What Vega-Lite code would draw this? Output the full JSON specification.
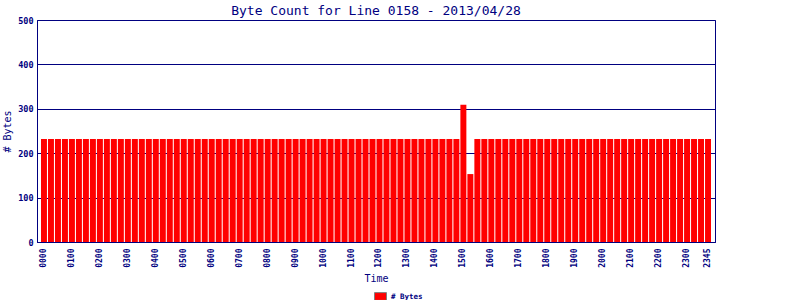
{
  "$schema": "https://vega.github.io/schema/vega-lite/v6.json",
  "width": 678,
  "height": 222,
  "autosize": "none",
  "padding": {"left": 37, "top": 20, "right": 85, "bottom": 58},
  "background": "white",
  "title": {"text": "Byte Count for Line 0158 - 2013/04/28", "font": "DejaVu Sans Mono", "fontSize": 13, "fontWeight": "normal", "color": "#000080", "offset": -2, "anchor": "middle"},
  "data": {"values": [
    {"time": "0000", "bytes": 232}, {"time": "0015", "bytes": 232}, {"time": "0030", "bytes": 232}, {"time": "0045", "bytes": 232},
    {"time": "0100", "bytes": 232}, {"time": "0115", "bytes": 232}, {"time": "0130", "bytes": 232}, {"time": "0145", "bytes": 232},
    {"time": "0200", "bytes": 232}, {"time": "0215", "bytes": 232}, {"time": "0230", "bytes": 232}, {"time": "0245", "bytes": 232},
    {"time": "0300", "bytes": 232}, {"time": "0315", "bytes": 232}, {"time": "0330", "bytes": 232}, {"time": "0345", "bytes": 232},
    {"time": "0400", "bytes": 232}, {"time": "0415", "bytes": 232}, {"time": "0430", "bytes": 232}, {"time": "0445", "bytes": 232},
    {"time": "0500", "bytes": 232}, {"time": "0515", "bytes": 232}, {"time": "0530", "bytes": 232}, {"time": "0545", "bytes": 232},
    {"time": "0600", "bytes": 232}, {"time": "0615", "bytes": 232}, {"time": "0630", "bytes": 232}, {"time": "0645", "bytes": 232},
    {"time": "0700", "bytes": 232}, {"time": "0715", "bytes": 232}, {"time": "0730", "bytes": 232}, {"time": "0745", "bytes": 232},
    {"time": "0800", "bytes": 232}, {"time": "0815", "bytes": 232}, {"time": "0830", "bytes": 232}, {"time": "0845", "bytes": 232},
    {"time": "0900", "bytes": 232}, {"time": "0915", "bytes": 232}, {"time": "0930", "bytes": 232}, {"time": "0945", "bytes": 232},
    {"time": "1000", "bytes": 232}, {"time": "1015", "bytes": 232}, {"time": "1030", "bytes": 232}, {"time": "1045", "bytes": 232},
    {"time": "1100", "bytes": 232}, {"time": "1115", "bytes": 232}, {"time": "1130", "bytes": 232}, {"time": "1145", "bytes": 232},
    {"time": "1200", "bytes": 232}, {"time": "1215", "bytes": 232}, {"time": "1230", "bytes": 232}, {"time": "1245", "bytes": 232},
    {"time": "1300", "bytes": 232}, {"time": "1315", "bytes": 232}, {"time": "1330", "bytes": 232}, {"time": "1345", "bytes": 232},
    {"time": "1400", "bytes": 232}, {"time": "1415", "bytes": 232}, {"time": "1430", "bytes": 232}, {"time": "1445", "bytes": 232},
    {"time": "1500", "bytes": 309}, {"time": "1515", "bytes": 153}, {"time": "1530", "bytes": 232}, {"time": "1545", "bytes": 232},
    {"time": "1600", "bytes": 232}, {"time": "1615", "bytes": 232}, {"time": "1630", "bytes": 232}, {"time": "1645", "bytes": 232},
    {"time": "1700", "bytes": 232}, {"time": "1715", "bytes": 232}, {"time": "1730", "bytes": 232}, {"time": "1745", "bytes": 232},
    {"time": "1800", "bytes": 232}, {"time": "1815", "bytes": 232}, {"time": "1830", "bytes": 232}, {"time": "1845", "bytes": 232},
    {"time": "1900", "bytes": 232}, {"time": "1915", "bytes": 232}, {"time": "1930", "bytes": 232}, {"time": "1945", "bytes": 232},
    {"time": "2000", "bytes": 232}, {"time": "2015", "bytes": 232}, {"time": "2030", "bytes": 232}, {"time": "2045", "bytes": 232},
    {"time": "2100", "bytes": 232}, {"time": "2115", "bytes": 232}, {"time": "2130", "bytes": 232}, {"time": "2145", "bytes": 232},
    {"time": "2200", "bytes": 232}, {"time": "2215", "bytes": 232}, {"time": "2230", "bytes": 232}, {"time": "2245", "bytes": 232},
    {"time": "2300", "bytes": 232}, {"time": "2315", "bytes": 232}, {"time": "2330", "bytes": 232}, {"time": "2345", "bytes": 232}
  ]},
  "mark": {"type": "bar", "color": "#ff0000"},
  "encoding": {
    "x": {
      "field": "time", "type": "ordinal", "sort": null,
      "scale": {"paddingInner": 0.145, "paddingOuter": 0.57},
      "axis": {
        "values": ["0000","0100","0200","0300","0400","0500","0600","0700","0800","0900","1000","1100","1200","1300","1400","1500","1600","1700","1800","1900","2000","2100","2200","2300","2345"],
        "labelAngle": 270, "labelFont": "DejaVu Sans Mono", "labelFontWeight": "bold", "labelFontSize": 8,
        "labelColor": "#000080", "labelPadding": 6, "ticks": false,
        "domainColor": "#000080", "domainWidth": 1,
        "title": "Time", "titleFont": "DejaVu Sans Mono", "titleFontSize": 10, "titleFontWeight": "normal",
        "titleColor": "#000080", "titlePadding": 6
      }
    },
    "y": {
      "field": "bytes", "type": "quantitative",
      "scale": {"domain": [0, 500], "nice": false},
      "axis": {
        "values": [0, 100, 200, 300, 400, 500],
        "grid": true, "gridColor": "#000080", "gridOpacity": 1, "gridWidth": 1,
        "ticks": false, "labelPadding": 4,
        "labelFont": "DejaVu Sans Mono", "labelFontWeight": "bold", "labelFontSize": 8.5, "labelColor": "#000080",
        "domainColor": "#000080", "domainWidth": 1,
        "title": "# Bytes", "titleFont": "DejaVu Sans Mono", "titleFontSize": 10, "titleFontWeight": "normal",
        "titleColor": "#000080", "titlePadding": 5
      }
    },
    "color": {
      "datum": "# Bytes",
      "scale": {"range": ["#ff0000"]},
      "legend": {
        "orient": "none", "legendX": 337, "legendY": 270, "title": null,
        "labelFont": "DejaVu Sans Mono", "labelFontWeight": "bold", "labelFontSize": 7.5, "labelColor": "#000080",
        "symbolType": "M-1,-0.65L1,-0.65L1,0.65L-1,0.65Z", "symbolSize": 144,
        "symbolStrokeColor": "#808080", "symbolStrokeWidth": 1, "symbolOpacity": 1, "labelOffset": 4
      }
    }
  },
  "config": {"view": {"stroke": "#000080", "strokeWidth": 1}}
}
